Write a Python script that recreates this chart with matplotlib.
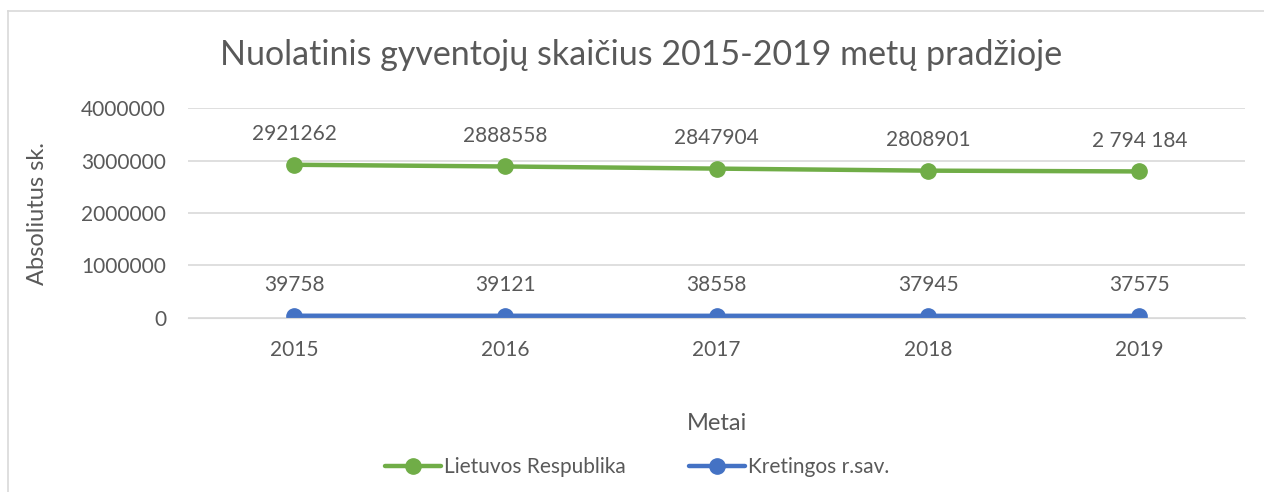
import matplotlib
matplotlib.use('Agg')
import matplotlib.pyplot as plt
from matplotlib.lines import Line2D

plt.rcParams['font.family'] = ['Lato', 'DejaVu Sans']

metai = ['2015', '2016', '2017', '2018', '2019']
lietuva = [2921262, 2888558, 2847904, 2808901, 2794184]
lietuva_zymes = ['2921262', '2888558', '2847904', '2808901', '2 794 184']
kretinga = [39758, 39121, 38558, 37945, 37575]
kretinga_zymes = ['39758', '39121', '38558', '37945', '37575']

tekstas = '#595959'
zalia = '#70AD47'
melyna = '#4472C4'

fig = plt.figure(figsize=(12.64, 4.92), dpi=100)
ax = fig.add_axes([0.149, 0.354, 0.836, 0.426])

x = range(len(metai))
ax.plot(x, lietuva, color=zalia, lw=3.2, marker='o', ms=11, label='Lietuvos Respublika',
        solid_capstyle='round')
ax.plot(x, kretinga, color=melyna, lw=3.2, marker='o', ms=11, label='Kretingos r.sav.',
        solid_capstyle='round')

for i in x:
    ax.annotate(lietuva_zymes[i], (i, lietuva[i]), xytext=(0, 22), textcoords='offset points',
                ha='center', va='center', fontsize=15, color=tekstas)
    ax.annotate(kretinga_zymes[i], (i, kretinga[i]), xytext=(0, 22), textcoords='offset points',
                ha='center', va='center', fontsize=15, color=tekstas)

ax.set_xlim(-0.5, 4.5)
ax.set_ylim(0, 4000000)
ax.set_yticks([0, 1000000, 2000000, 3000000, 4000000])
ax.set_yticklabels(['0', '1000000', '2000000', '3000000', '4000000'])
ax.set_xticks(list(x))
ax.set_xticklabels(metai)
ax.tick_params(length=0, labelsize=15, labelcolor=tekstas)
ax.tick_params(axis='x', pad=16)
ax.tick_params(axis='y', pad=16)
ax.grid(axis='y', color='#D9D9D9', lw=1.2)
ax.set_axisbelow(True)
for s in ax.spines.values():
    s.set_visible(False)
ax.spines['bottom'].set_visible(True)
ax.spines['bottom'].set_color('#D9D9D9')

ax.set_xlabel('Metai', fontsize=17, color=tekstas, labelpad=38)
ax.set_ylabel('Absoliutus sk.', fontsize=17, color=tekstas, labelpad=24)

fig.text(0.507, 0.888, 'Nuolatinis gyventojų skaičius 2015-2019 metų pradžioje',
         ha='center', va='center', fontsize=24.5, color=tekstas)

fig.legend(loc='center', bbox_to_anchor=(0.504, 0.05), ncol=2, frameon=False,
           fontsize=15, labelcolor=tekstas, handlelength=2.7, columnspacing=3.0,
           handletextpad=0.15)

# remelis: tik virsus ir kaire
fig.add_artist(Line2D([0.0065, 1.0], [0.978, 0.978], transform=fig.transFigure,
                      color='#D9D9D9', lw=1.2))
fig.add_artist(Line2D([0.0065, 0.0065], [0.0, 0.978], transform=fig.transFigure,
                      color='#D9D9D9', lw=1.2))

fig.savefig('out.png', dpi=100)
